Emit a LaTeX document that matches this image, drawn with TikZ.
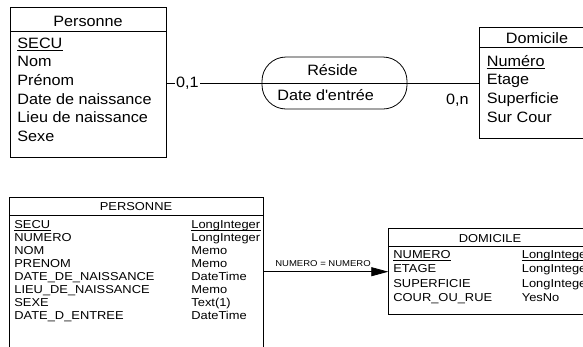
\documentclass[tikz,border=0pt]{standalone}
\usepackage{fontspec}
\setmainfont{Liberation Sans}
\newfontfamily\ergfont[FakeStretch=1.08]{Liberation Sans}
\newfontfamily\relfont[FakeStretch=1.12]{Liberation Sans}
\usetikzlibrary{arrows.meta}

\tikzset{
  box/.style={draw, inner sep=0pt, anchor=north west},
  field/.style={inner sep=0pt, anchor=base west},
  title/.style={inner sep=0pt, anchor=base},
  mcd/.style={font=\fontsize{15}{18}\ergfont},
  mld/.style={font=\fontsize{11.5}{13}\relfont},
  keyline/.style={line width=1.1pt},
}

\begin{document}
\begin{tikzpicture}[x=1pt, y=-1pt, line width=0.8pt]
\useasboundingbox (0,0) rectangle (583,346);
\clip (0,0) rectangle (583,346);

% modele conceptuel
\node[box, minimum width=156pt, minimum height=150pt] (personne) at (10,7) {};
\draw ([yshift=-24.7pt]personne.north west) -- ([yshift=-24.7pt]personne.north east);
\node[title, mcd] (personneT) at (88,26) {Personne};
\node[field, mcd] (secu) at (17,48) {SECU};
\node[field, mcd] (nom) at (17,66.7) {Nom};
\node[field, mcd] (prenom) at (17,85.4) {Prénom};
\node[field, mcd] (datenais) at (17,104.1) {Date de naissance};
\node[field, mcd] (lieunais) at (17,122.8) {Lieu de naissance};
\node[field, mcd] (sexe) at (17,141.5) {Sexe};
\draw[keyline] ([yshift=-2.8pt]secu.base west) -- ([yshift=-2.8pt]secu.base east);

\node[box, minimum width=103.5pt, minimum height=111pt] (domicile) at (479,27) {};
\draw ([yshift=-20pt]domicile.north west) -- ([yshift=-20pt]domicile.north east);
\node[title, mcd] (domicileT) at (537,43) {Domicile};
\node[field, mcd] (numero) at (486.5,66) {Numéro};
\node[field, mcd] (etage) at (486.5,84.7) {Etage};
\node[field, mcd] (superficie) at (486.5,103.4) {Superficie};
\node[field, mcd] (surcour) at (486.5,122.1) {Sur Cour};
\draw[keyline] ([yshift=-2.8pt]numero.base west) -- ([yshift=-2.8pt]numero.base east);

\node[draw, rounded corners=24pt, minimum width=145pt, minimum height=52pt, inner sep=0pt] (reside) at (334.5,83) {};
\draw (reside.west) -- (reside.east);
\node[title, mcd] (resideT) at (332.5,75) {Réside};
\node[field, mcd] (dateentree) at (277,100) {Date d\textquotesingle entrée};

\draw (personne.east |- reside.west) -- (reside.west)
  node[pos=0.083, anchor=west, fill=white, inner xsep=1pt, inner ysep=1pt, mcd] {0,1};
\draw (reside.east) -- (reside.east -| domicile.west);
\node[inner sep=0pt, anchor=base east, mcd] (card) at (469,104) {0,n};

% modele relationnel
\node[box, minimum width=254pt, minimum height=160pt] (perso) at (9,197) {};
\draw ([yshift=-18.5pt]perso.north west) -- ([yshift=-18.5pt]perso.north east);
\node[title, mld] (persoT) at (136,210.5) {PERSONNE};
\node[field, mld] (pSecu) at (14,228.3) {SECU};
\node[field, mld] (pNumero) at (14,241.3) {NUMERO};
\node[field, mld] (pNom) at (14,254.3) {NOM};
\node[field, mld] (pPrenom) at (14,267.3) {PRENOM};
\node[field, mld] (pDate) at (14,280.3) {DATE\_DE\_NAISSANCE};
\node[field, mld] (pLieu) at (14,293.3) {LIEU\_DE\_NAISSANCE};
\node[field, mld] (pSexe) at (14,306.3) {SEXE};
\node[field, mld] (pEntree) at (14,319.3) {DATE\_D\_ENTREE};
\node[field, mld] (tSecu) at (191,228.3) {LongInteger};
\node[field, mld] (tNumero) at (191,241.3) {LongInteger};
\node[field, mld] (tNom) at (191,254.3) {Memo};
\node[field, mld] (tPrenom) at (191,267.3) {Memo};
\node[field, mld] (tDate) at (191,280.3) {DateTime};
\node[field, mld] (tLieu) at (191,293.3) {Memo};
\node[field, mld] (tSexe) at (191,306.3) {Text(1)};
\node[field, mld] (tEntree) at (191,319.3) {DateTime};
\draw ([yshift=-2.2pt]pSecu.base west) -- ([yshift=-2.2pt]pSecu.base east);
\draw ([yshift=-2.2pt]tSecu.base west) -- ([yshift=-2.2pt]tSecu.base east);

\node[box, minimum width=205pt, minimum height=86pt] (domi) at (388.3,228.3) {};
\draw ([yshift=-18.4pt]domi.north west) -- ([yshift=-18.4pt]domi.north east);
\node[title, mld] (domiT) at (490,242.5) {DOMICILE};
\node[field, mld] (dNumero) at (393,258.3) {NUMERO};
\node[field, mld] (dEtage) at (393,272.8) {ETAGE};
\node[field, mld] (dSuperficie) at (393,287.3) {SUPERFICIE};
\node[field, mld] (dCour) at (393,301.8) {COUR\_OU\_RUE};
\node[field, mld] (uNumero) at (521.5,258.3) {LongInteger};
\node[field, mld] (uEtage) at (521.5,272.8) {LongInteger};
\node[field, mld] (uSuperficie) at (521.5,287.3) {LongInteger};
\node[field, mld] (uCour) at (521.5,301.8) {YesNo};
\draw ([yshift=-2.2pt]dNumero.base west) -- ([yshift=-2.2pt]dNumero.base east);
\draw ([yshift=-2.2pt]uNumero.base west) -- ([yshift=-2.2pt]uNumero.base east);

\draw[-{Triangle[length=17pt, width=9pt]}] (domi.west -| perso.east) -- (domi.west)
  node[midway, above=5pt, inner sep=0pt, xshift=-3pt, font=\fontsize{8.5}{10}\relfont] {NUMERO = NUMERO};
\end{tikzpicture}
\end{document}
